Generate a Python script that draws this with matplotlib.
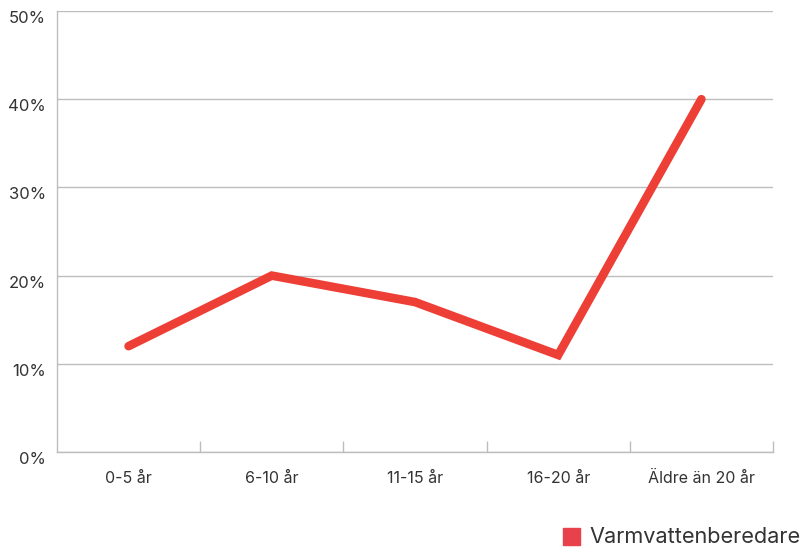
import matplotlib.pyplot as plt
from matplotlib.patches import Rectangle
from matplotlib.ticker import FixedLocator, PercentFormatter


CATEGORIES = ["0-5 år", "6-10 år", "11-15 år", "16-20 år", "Äldre än 20 år"]
VALUES = [12, 20, 17, 11, 40]
SERIES_NAME = "Varmvattenberedare"
Y_TICKS = [0, 10, 20, 30, 40, 50]

LINE_COLOR = "#ee3f37"
LEGEND_COLOR = "#e8414b"
GRID_COLOR = "#bdbdbd"
TEXT_COLOR = "#333333"

plt.rcParams["font.family"] = ["Inter", "DejaVu Sans"]

fig = plt.figure(figsize=(8.03, 5.49), dpi=100)
ax = fig.add_axes([57 / 803, 97 / 549, 716 / 803, 441 / 549])

x = list(range(len(CATEGORIES)))
ax.plot(x, VALUES, color=LINE_COLOR, linewidth=6.2, solid_capstyle="round",
        solid_joinstyle="miter", zorder=3)

ax.set_xlim(-0.5, len(CATEGORIES) - 0.5)
ax.set_ylim(0, 50)

ax.set_yticks(Y_TICKS)
ax.yaxis.set_major_formatter(PercentFormatter(decimals=0))
ax.grid(axis="y", color=GRID_COLOR, linewidth=1)
ax.set_axisbelow(True)

ax.set_xticks(x)
ax.set_xticklabels(CATEGORIES)
ax.xaxis.set_minor_locator(FixedLocator([i + 0.5 for i in x]))
ax.tick_params(axis="x", which="major", length=0, pad=14, labelsize=11.5,
               labelcolor=TEXT_COLOR)
ax.tick_params(axis="x", which="minor", direction="in", length=8,
               color=GRID_COLOR, width=1)
ax.tick_params(axis="y", length=0, pad=8, labelsize=12, labelcolor=TEXT_COLOR)
for lbl in ax.get_yticklabels():
    lbl.set_verticalalignment("top")

for side in ("top", "right"):
    ax.spines[side].set_visible(False)
for side in ("left", "bottom"):
    ax.spines[side].set_color(GRID_COLOR)
    ax.spines[side].set_linewidth(1)

# legend drawn by hand at the lower right
fig.patches.append(Rectangle((563 / 803, 4 / 549), 17 / 803, 17 / 549,
                             transform=fig.transFigure, color=LEGEND_COLOR))
fig.text(589 / 803, 12 / 549, SERIES_NAME, fontsize=15.6, color=TEXT_COLOR,
         va="center", ha="left")

fig.savefig("out.png", dpi=100)
